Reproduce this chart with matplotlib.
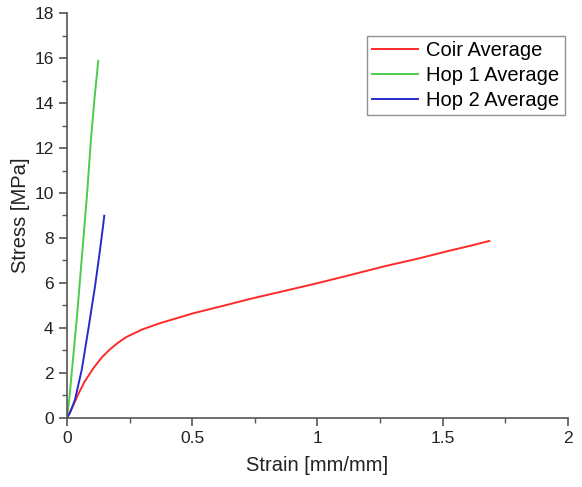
import matplotlib
matplotlib.use("Agg")
import matplotlib.pyplot as plt
from matplotlib.ticker import MultipleLocator, FuncFormatter

plt.rcParams['font.family'] = ['Liberation Sans', 'DejaVu Sans']

coir_x = [0, 0.01, 0.025, 0.045, 0.07, 0.105, 0.14, 0.172, 0.205, 0.238, 0.3, 0.371, 0.504, 0.637, 0.731, 0.87, 1.0, 1.13, 1.263, 1.4, 1.529, 1.62, 1.686]
coir_y = [0, 0.2, 0.55, 1.05, 1.6, 2.2, 2.7, 3.05, 3.35, 3.6, 3.93, 4.21, 4.65, 5.02, 5.29, 5.65, 5.99, 6.35, 6.73, 7.08, 7.44, 7.68, 7.87]

hop1_x = [0, 0.01, 0.02, 0.04, 0.06, 0.08, 0.096, 0.11, 0.125]
hop1_y = [0, 0.9, 2.1, 4.5, 7.2, 9.9, 12.4, 14.2, 15.88]

hop2_x = [0, 0.012, 0.032, 0.059, 0.085, 0.112, 0.13, 0.145, 0.149]
hop2_y = [0, 0.22, 0.8, 2.13, 3.91, 5.84, 7.3, 8.6, 8.99]

fig = plt.figure(figsize=(5.82, 4.87), dpi=100)
ax = fig.add_axes([0.115, 0.142, 0.861, 0.831])

ax.plot(coir_x, coir_y, color='#ff2a2a', lw=1.4, label='Coir Average')
ax.plot(hop1_x, hop1_y, color='#4ccc4c', lw=1.4, label='Hop 1 Average')
ax.plot(hop2_x, hop2_y, color='#2a2acc', lw=1.4, label='Hop 2 Average')

ax.set_xlim(0, 2)
ax.set_ylim(0, 18)
ax.spines['top'].set_visible(False)
ax.spines['right'].set_visible(False)
for s in ['left', 'bottom']:
    ax.spines[s].set_color('#555555')
    ax.spines[s].set_linewidth(1.2)

ax.xaxis.set_major_locator(MultipleLocator(0.5))
ax.xaxis.set_minor_locator(MultipleLocator(0.25))
ax.yaxis.set_major_locator(MultipleLocator(2))
ax.yaxis.set_minor_locator(MultipleLocator(1))
fmt = FuncFormatter(lambda v, p: '%g' % v)
ax.xaxis.set_major_formatter(fmt)
ax.yaxis.set_major_formatter(fmt)
ax.tick_params(which='major', direction='out', length=6, width=1.2, color='#555555', labelsize=12.5, labelcolor='#222222')
ax.tick_params(which='minor', direction='out', length=3.5, width=1.0, color='#555555')

ax.set_xlabel('Strain [mm/mm]', fontsize=14.5, color='#222222', labelpad=7)
ax.set_ylabel('Stress [MPa]', fontsize=14.5, color='#222222', labelpad=3)

leg = ax.legend(loc='upper right', bbox_to_anchor=(0.993, 0.943), fontsize=14.5, frameon=True, fancybox=False,
                edgecolor='#777777', handlelength=2.3, borderpad=0.25, labelspacing=0.3, handletextpad=0.4,
                borderaxespad=0)
leg.get_frame().set_linewidth(1.0)

fig.savefig('out.png', dpi=100)
